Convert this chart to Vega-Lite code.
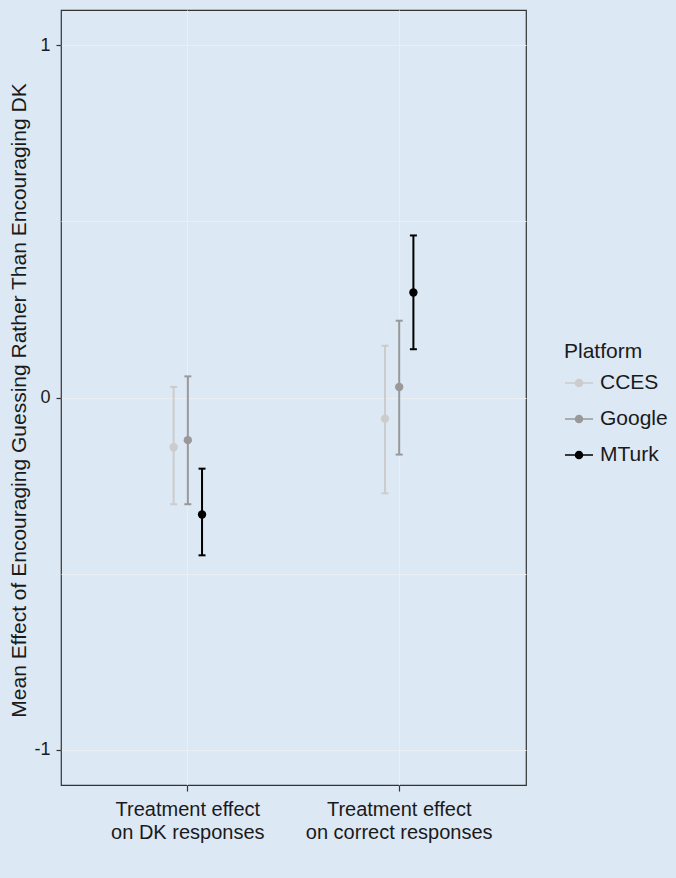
{
  "$schema": "https://vega.github.io/schema/vega-lite/v6.json",
  "width": 465,
  "height": 775,
  "autosize": {"type": "none"},
  "padding": {"left": 61, "top": 10, "right": 150, "bottom": 93},
  "background": "#dde8f5",
  "config": {
    "view": {"stroke": "#333333", "strokeWidth": 1.2, "fill": "#dde8f5"},
    "font": "Liberation Sans"
  },
  "data": {
    "values": [
      {"effect": "Treatment effect on DK responses", "Platform": "CCES", "est": -0.141, "lo": -0.303, "hi": 0.030},
      {"effect": "Treatment effect on DK responses", "Platform": "Google", "est": -0.121, "lo": -0.303, "hi": 0.060},
      {"effect": "Treatment effect on DK responses", "Platform": "MTurk", "est": -0.332, "lo": -0.448, "hi": -0.202},
      {"effect": "Treatment effect on correct responses", "Platform": "CCES", "est": -0.060, "lo": -0.272, "hi": 0.147},
      {"effect": "Treatment effect on correct responses", "Platform": "Google", "est": 0.030, "lo": -0.162, "hi": 0.218},
      {"effect": "Treatment effect on correct responses", "Platform": "MTurk", "est": 0.298, "lo": 0.137, "hi": 0.460}
    ]
  },
  "encoding": {
    "x": {
      "field": "effect",
      "type": "nominal",
      "sort": ["Treatment effect on DK responses", "Treatment effect on correct responses"],
      "scale": {"paddingInner": 0, "paddingOuter": 0.1},
      "axis": {
        "title": null,
        "labelAngle": 0,
        "labelExpr": "['Treatment effect', replace(datum.label, 'Treatment effect ', '')]",
        "labelFontSize": 20,
        "labelLineHeight": 23,
        "labelPadding": 8,
        "labelLimit": 400,
        "labelColor": "#1a1a1a",
        "tickSize": 6,
        "tickColor": "#333333",
        "tickWidth": 1.2,
        "domain": false,
        "grid": true,
        "gridColor": "#ebeff3",
        "gridWidth": 1
      }
    },
    "xOffset": {
      "field": "Platform",
      "type": "nominal",
      "sort": ["CCES", "Google", "MTurk"],
      "scale": {"type": "point", "range": [84.4, 127]}
    },
    "color": {
      "field": "Platform",
      "type": "nominal",
      "scale": {"domain": ["CCES", "Google", "MTurk"], "range": ["#cccccc", "#999999", "#000000"]},
      "legend": {
        "title": "Platform",
        "orient": "none",
        "legendX": 503,
        "legendY": 331,
        "titleFontSize": 21,
        "titleFontWeight": "normal",
        "titleColor": "#1a1a1a",
        "titlePadding": 6,
        "labelFontSize": 21,
        "labelColor": "#1a1a1a",
        "labelOffset": 6,
        "symbolType": "M-1,0L1,0M0.25,0A0.25,0.25,0,1,1,-0.25,0A0.25,0.25,0,1,1,0.25,0Z",
        "symbolSize": 784,
        "symbolStrokeWidth": 1.5,
        "symbolOpacity": 1,
        "rowPadding": 11,
        "padding": 0,
        "encode": {
          "symbols": {
            "update": {
              "stroke": {"scale": "color", "field": "value"},
              "fill": {"scale": "color", "field": "value"}
            }
          }
        }
      }
    }
  },
  "layer": [
    {
      "mark": {"type": "rule", "strokeWidth": 2},
      "encoding": {
        "y": {
          "field": "lo",
          "type": "quantitative",
          "title": "Mean Effect of Encouraging Guessing Rather Than Encouraging DK",
          "scale": {"domain": [-1.1, 1.1], "nice": false, "zero": false},
          "axis": {
            "values": [-1, -0.5, 0, 0.5, 1],
            "labelExpr": "datum.value === 1 ? '1' : datum.value === 0 ? '0' : datum.value === -1 ? '-1' : ''",
            "tickOpacity": {"condition": {"test": "datum.value % 1 !== 0", "value": 0}, "value": 1},
            "tickSize": 5,
            "tickColor": "#333333",
            "tickWidth": 1.2,
            "labelFontSize": 18,
            "labelColor": "#1a1a1a",
            "labelPadding": 6,
            "domain": false,
            "grid": true,
            "gridColor": "#ebeff3",
            "gridWidth": 1,
            "titleFontSize": 21,
            "titleFontWeight": "normal",
            "titleColor": "#1a1a1a",
            "titleX": -36,
            "titleY": 390,
            "titleAngle": 270,
            "titleAlign": "center",
            "titleBaseline": "alphabetic"
          }
        },
        "y2": {"field": "hi"}
      }
    },
    {
      "mark": {"type": "tick", "size": 7, "thickness": 2, "opacity": 1},
      "encoding": {
        "y": {"field": "lo", "type": "quantitative", "title": "Mean Effect of Encouraging Guessing Rather Than Encouraging DK"}
      }
    },
    {
      "mark": {"type": "tick", "size": 7, "thickness": 2, "opacity": 1},
      "encoding": {
        "y": {"field": "hi", "type": "quantitative", "title": "Mean Effect of Encouraging Guessing Rather Than Encouraging DK"}
      }
    },
    {
      "mark": {"type": "point", "filled": true, "size": 70, "opacity": 1},
      "encoding": {
        "y": {"field": "est", "type": "quantitative", "title": "Mean Effect of Encouraging Guessing Rather Than Encouraging DK"}
      }
    }
  ]
}
